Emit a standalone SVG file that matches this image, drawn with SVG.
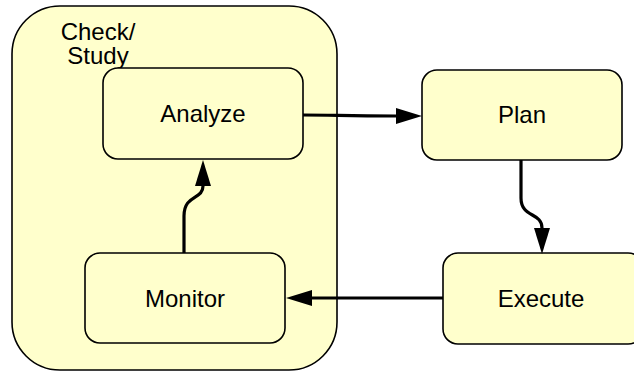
<svg xmlns="http://www.w3.org/2000/svg" width="634" height="372" viewBox="0 0 634 372">
<defs>
<style>
.box{fill:#ffffcc;stroke:#000;stroke-width:1.6}
.lbl{font-family:"Liberation Sans",Arial,sans-serif;font-size:24px;fill:#000;text-anchor:middle}
.conn{fill:none;stroke:#000;stroke-width:3.2;stroke-linecap:butt}
</style>
<marker id="ah" markerUnits="userSpaceOnUse" markerWidth="28" markerHeight="18" refX="0" refY="8" orient="auto" overflow="visible">
<path d="M0,0 L26,8 L0,16 Z" fill="#000"/>
</marker>
</defs>
<rect width="634" height="372" fill="#fff"/>
<g id="check-study">
<rect class="box" x="12" y="6" width="325" height="364" rx="48" ry="48"/>
<text class="lbl" x="98" y="40">Check/</text>
<text class="lbl" x="98" y="64">Study</text>
</g>
<g id="analyze">
<rect class="box" x="103" y="68" width="200" height="91" rx="15" ry="15"/>
<text class="lbl" x="203" y="122">Analyze</text>
</g>
<g id="monitor">
<rect class="box" x="85" y="253" width="200" height="90" rx="15" ry="15"/>
<text class="lbl" x="185" y="307">Monitor</text>
</g>
<g id="plan">
<rect class="box" x="422" y="70" width="200" height="90" rx="15" ry="15"/>
<text class="lbl" x="522" y="123">Plan</text>
</g>
<g id="execute">
<rect class="box" x="443" y="253" width="200" height="91" rx="15" ry="15"/>
<text class="lbl" x="541" y="307">Execute</text>
</g>
<g id="connectors">
<path class="conn" d="M303,115 C335,115 345,116 396,116" marker-end="url(#ah)"/>
<path class="conn" d="M521,160 L521,198 C521,218 542,212 542,228" marker-end="url(#ah)"/>
<path class="conn" d="M443,298 L312,298" marker-end="url(#ah)"/>
<path class="conn" d="M184,253 L184,216 C184,194 203,200 203,186" marker-end="url(#ah)"/>
</g>
</svg>
